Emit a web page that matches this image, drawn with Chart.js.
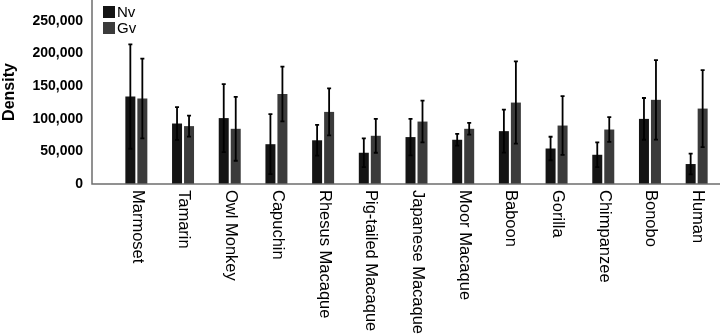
<!DOCTYPE html>
<html>
<head>
<meta charset="utf-8">
<script src="https://cdn.jsdelivr.net/npm/chart.js@4.4.1/dist/chart.umd.min.js"></script>
<style>
  html, body { margin: 0; padding: 0; background: #fff; }
  #wrap { width: 722px; height: 336px; position: relative; }
</style>
</head>
<body>
<div id="wrap"><canvas id="myChart"></canvas></div>
<script>
// datos
const categorias = ['Marmoset', 'Tamarin', 'Owl Monkey', 'Capuchin', 'Rhesus Macaque', 'Pig-tailed Macaque',
    'Japanese Macaque', 'Moor Macaque', 'Baboon', 'Gorilla', 'Chimpanzee', 'Bonobo', 'Human'];
const nvMedia = [134000, 92700, 101000, 61000, 67000, 47900, 71900, 67800, 81000, 54400, 44800, 99800, 30600];
const nvError = [80000, 25000, 52000, 46000, 23500, 22000, 28000, 9000, 33000, 18000, 19000, 32000, 16000];
const gvMedia = [131000, 88700, 84600, 138000, 110500, 73900, 95700, 84600, 124800, 89600, 83500, 129000, 115600];
const gvError = [61000, 16000, 49000, 42000, 36000, 26000, 32000, 9000, 63000, 45000, 19000, 61000, 59000];
const yTicks = [0, 50000, 100000, 150000, 200000, 250000];

const errores = [nvError, gvError];
const GAP = 21; // separacion entre eje y el primer grupo

// barras de error
const errorBars = {
    id: 'errorBars',
    afterDatasetsDraw(chart) {
        const ctx = chart.ctx;
        const y = chart.scales.y;
        ctx.save();
        ctx.strokeStyle = '#000';
        ctx.lineWidth = 1.8;
        chart.data.datasets.forEach((ds, i) => {
            const meta = chart.getDatasetMeta(i);
            meta.data.forEach((bar, j) => {
                const v = ds.data[j];
                const e = errores[i][j];
                const top = y.getPixelForValue(v + e);
                const bot = y.getPixelForValue(v - e);
                ctx.beginPath();
                ctx.moveTo(bar.x, top);
                ctx.lineTo(bar.x, bot);
                ctx.moveTo(bar.x - 2, top);
                ctx.lineTo(bar.x + 2, top);
                ctx.moveTo(bar.x - 2, bot);
                ctx.lineTo(bar.x + 2, bot);
                ctx.stroke();
            });
        });
        ctx.restore();
    }
};

// ejes, etiquetas giradas y leyenda
const extras = {
    id: 'extras',
    afterDraw(chart) {
        const ctx = chart.ctx;
        const area = chart.chartArea;
        const x = chart.scales.x;
        const ejeX = area.left - GAP;
        ctx.save();
        ctx.strokeStyle = '#6e6e6e';
        ctx.lineWidth = 1.5;
        ctx.beginPath();
        ctx.moveTo(ejeX, 0);
        ctx.lineTo(ejeX, area.bottom);
        ctx.lineTo(area.right, area.bottom);
        ctx.stroke();

        ctx.fillStyle = '#000';
        ctx.font = '16.5px "Liberation Sans", Arial, sans-serif';
        ctx.textAlign = 'left';
        ctx.textBaseline = 'middle';
        categorias.forEach((c, i) => {
            ctx.save();
            ctx.translate(x.getPixelForTick(i) + 1, area.bottom + 6);
            ctx.rotate(Math.PI / 2);
            ctx.fillText(c, 0, 0);
            ctx.restore();
        });

        ctx.font = '15px "Liberation Sans", Arial, sans-serif';
        chart.data.datasets.forEach((ds, i) => {
            const ly = 6 + i * 16;
            ctx.fillStyle = ds.backgroundColor;
            ctx.fillRect(ejeX + 11, ly, 12, 12);
            ctx.fillStyle = '#000';
            ctx.fillText(ds.label, ejeX + 25, ly + 6.5);
        });
        ctx.restore();
    }
};

document.addEventListener('DOMContentLoaded', () => {
    const ctx = document.getElementById('myChart').getContext('2d');
    new Chart(ctx, {
        type: 'bar',
        data: {
            labels: categorias,
            datasets: [
                { label: 'Nv', data: nvMedia, backgroundColor: '#141414' },
                { label: 'Gv', data: gvMedia, backgroundColor: '#3b3b3b' }
            ]
        },
        options: {
            responsive: true,
            maintainAspectRatio: false,
            animation: false,
            categoryPercentage: 0.514,
            barPercentage: 0.833,
            layout: { padding: { top: 0, right: 2, left: 0, bottom: 0 } },
            scales: {
                x: {
                    grid: { display: false },
                    border: { display: false },
                    ticks: { display: false },
                    afterFit: s => { s.height = 152; }
                },
                y: {
                    min: 0,
                    max: 282000,
                    grid: { display: false, drawTicks: false },
                    border: { display: false },
                    afterBuildTicks: s => { s.ticks = yTicks.map(v => ({ value: v })); },
                    ticks: {
                        padding: 30,
                        color: '#000',
                        font: { family: '"Liberation Sans", Arial, sans-serif', size: 14, weight: 'bold' },
                        callback: v => v.toLocaleString('en-US')
                    },
                    title: {
                        display: true,
                        text: 'Density',
                        color: '#000',
                        padding: { top: 0, bottom: 8 },
                        font: { family: '"Liberation Sans", Arial, sans-serif', size: 16, weight: 'bold' }
                    },
                    afterFit: s => {
                        s.width = 113;
                        s.paddingTop = 0;
                        s.paddingBottom = 0;
                    }
                }
            },
            plugins: {
                legend: { display: false },
                tooltip: { enabled: false }
            }
        },
        plugins: [errorBars, extras]
    });
});
</script>
</body>
</html>
